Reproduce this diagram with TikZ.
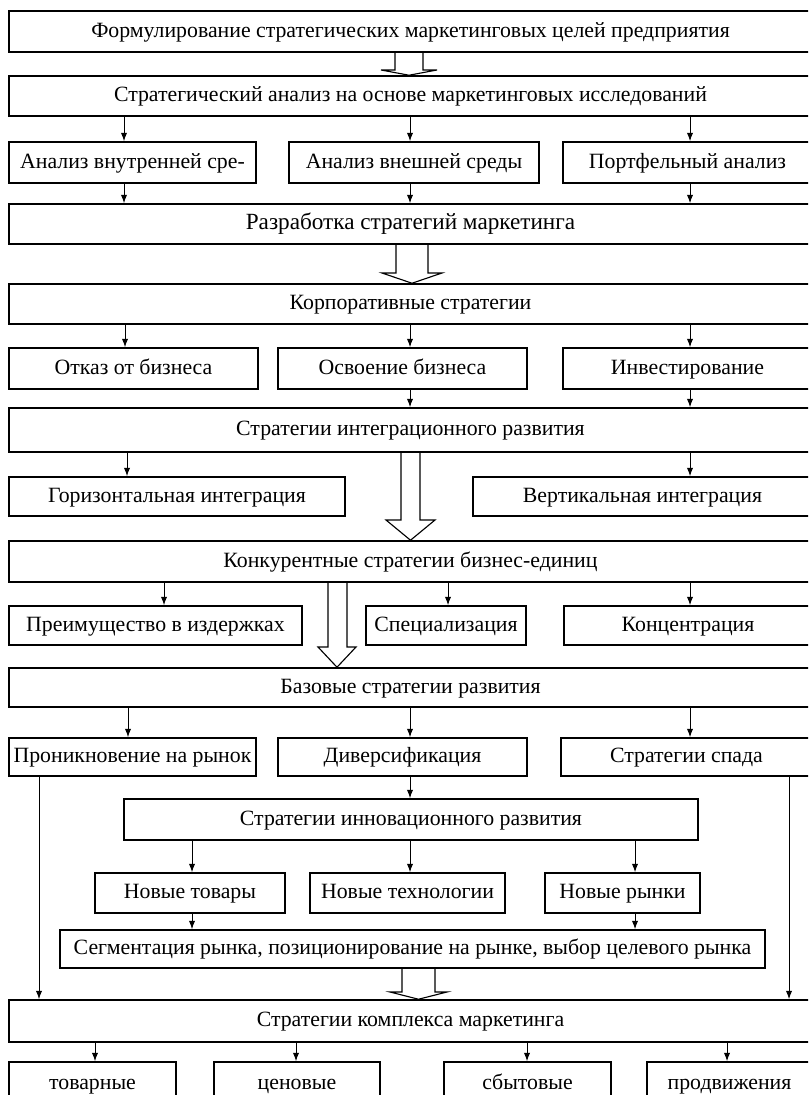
\documentclass[tikz,border=0pt]{standalone}
\usepackage{fontspec}
\setmainfont{Liberation Serif}
\usetikzlibrary{calc,arrows.meta}

\tikzset{
  blk/.style 2 args={draw, line width=1.1pt, minimum width=#1*0.025cm, minimum height=#2*0.025cm,
    inner sep=0pt, text height=11pt, text depth=3pt, font=\fontsize{15.5}{17}\selectfont},
  arr/.style={-{Latex[length=6pt,width=4.5pt]}, line width=0.7pt},
  hollow/.style={line width=0.8pt, line join=miter}
}

\begin{document}
\begin{tikzpicture}[x=0.025cm,y=-0.025cm]
\useasboundingbox (0,0) rectangle (808,1095);
\clip (0,0) rectangle (808,1095);
% top of the scheme
\node[blk={803}{41}] (n1) at (410.5,31.5) {Формулирование стратегических маркетинговых целей предприятия};
\node[blk={803}{40}] (n2) at (410.5,96) {Стратегический анализ на основе маркетинговых исследований};
\node[blk={247}{41}] (n3a) at (132.5,162.5) {Анализ внутренней сре-};
\node[blk={250}{41}] (n3b) at (414,162.5) {Анализ внешней среды};
\node[blk={249}{41}] (n3c) at (687.5,162.5) {Портфельный анализ};
\node[blk={803}{40},font=\fontsize{16.5}{18}\selectfont] (n4) at (410.5,224) {Разработка стратегий маркетинга};
% corporate level
\node[blk={803}{40}] (n5) at (410.5,304) {Корпоративные стратегии};
\node[blk={249}{41}] (n6a) at (133.5,368.5) {Отказ от бизнеса};
\node[blk={249}{41}] (n6b) at (402.5,368.5) {Освоение бизнеса};
\node[blk={249}{41}] (n6c) at (687.5,368.5) {Инвестирование};
\node[blk={803}{44}] (n7) at (410.5,430) {Стратегии интеграционного развития};
\node[blk={336}{39}] (n8a) at (177,496.5) {Горизонтальная интеграция};
\node[blk={339}{39}] (n8b) at (642.5,496.5) {Вертикальная интеграция};
% business units
\node[blk={803}{41}] (n9) at (410.5,561.5) {Конкурентные стратегии бизнес-единиц};
\node[blk={293}{39}] (n10a) at (155.5,625.5) {Преимущество в издержках};
\node[blk={160}{39}] (n10b) at (446,625.5) {Специализация};
\node[blk={248}{39}] (n10c) at (688,625.5) {Концентрация};
\node[blk={803}{39}] (n11) at (410.5,687.5) {Базовые стратегии развития};
\node[blk={247}{38}] (n12a) at (132.5,757) {Проникновение на рынок};
\node[blk={249}{38}] (n12b) at (402.5,757) {Диверсификация};
\node[blk={251}{38}] (n12c) at (686.5,757) {Стратегии спада};
\node[blk={574}{41}] (n13) at (411,819.5) {Стратегии инновационного развития};
\node[blk={190}{40}] (n14a) at (190,893) {Новые товары};
\node[blk={195}{40}] (n14b) at (407.5,893) {Новые технологии};
\node[blk={155}{40}] (n14c) at (622.5,893) {Новые рынки};
\node[blk={705}{38}] (n15) at (412.5,949) {Сегментация рынка, позиционирование на рынке, выбор целевого рынка};
% marketing mix
\node[blk={803}{42}] (n16) at (410.5,1021) {Стратегии комплекса маркетинга};
\node[blk={167}{44}] (n17a) at (92.5,1084) {товарные};
\node[blk={166}{44}] (n17b) at (297,1084) {ценовые};
\node[blk={167}{44}] (n17c) at (527.5,1084) {сбытовые};
\node[blk={165}{44}] (n17d) at (729.5,1084) {продвижения};

% connectors
\draw[hollow] (395,0 |- n1.south) -- (395,70) -- (381,70) -- (409,0 |- n2.north) -- (437,70) -- (423,70) -- (423,0 |- n1.south);
\draw[arr] (124,0 |- n2.south) -- (124,0 |- n3a.north);
\draw[arr] (410,0 |- n2.south) -- (410,0 |- n3b.north);
\draw[arr] (690,0 |- n2.south) -- (690,0 |- n3c.north);
\draw[arr] (124,0 |- n3a.south) -- (124,0 |- n4.north);
\draw[arr] (410,0 |- n3b.south) -- (410,0 |- n4.north);
\draw[arr] (690,0 |- n3c.south) -- (690,0 |- n4.north);
\draw[hollow] (396,0 |- n4.south) -- (396,273) -- (382,273) -- (412,0 |- n5.north) -- (442,273) -- (428,273) -- (428,0 |- n4.south);
\draw[arr] (125,0 |- n5.south) -- (125,0 |- n6a.north);
\draw[arr] (410,0 |- n5.south) -- (410,0 |- n6b.north);
\draw[arr] (690,0 |- n5.south) -- (690,0 |- n6c.north);
\draw[arr] (410,0 |- n6b.south) -- (410,0 |- n7.north);
\draw[arr] (690,0 |- n6c.south) -- (690,0 |- n7.north);
\draw[arr] (127,0 |- n7.south) -- (127,0 |- n8a.north);
\draw[arr] (690,0 |- n7.south) -- (690,0 |- n8b.north);
\draw[hollow] (401,0 |- n7.south) -- (401,520) -- (386,520) -- (410.5,0 |- n9.north) -- (435,520) -- (420,520) -- (420,0 |- n7.south);
\draw[arr] (164,0 |- n9.south) -- (164,0 |- n10a.north);
\draw[arr] (448,0 |- n9.south) -- (448,0 |- n10b.north);
\draw[arr] (690,0 |- n9.south) -- (690,0 |- n10c.north);
\draw[hollow] (328,0 |- n9.south) -- (328,647) -- (318,647) -- (337,0 |- n11.north) -- (356,647) -- (347,647) -- (347,0 |- n9.south);
\draw[arr] (128,0 |- n11.south) -- (128,0 |- n12a.north);
\draw[arr] (410,0 |- n11.south) -- (410,0 |- n12b.north);
\draw[arr] (690,0 |- n11.south) -- (690,0 |- n12c.north);
\draw[arr] (410,0 |- n12b.south) -- (410,0 |- n13.north);
\draw[arr] (192,0 |- n13.south) -- (192,0 |- n14a.north);
\draw[arr] (410,0 |- n13.south) -- (410,0 |- n14b.north);
\draw[arr] (635,0 |- n13.south) -- (635,0 |- n14c.north);
\draw[arr] (192,0 |- n14a.south) -- (192,0 |- n15.north);
\draw[arr] (635,0 |- n14c.south) -- (635,0 |- n15.north);
\draw[arr] (39,0 |- n12a.south) -- (39,0 |- n16.north);
\draw[arr] (789,0 |- n12c.south) -- (789,0 |- n16.north);
\draw[hollow] (402,0 |- n15.south) -- (402,992) -- (390,992) -- (418.5,0 |- n16.north) -- (447,992) -- (435,992) -- (435,0 |- n15.south);
\draw[arr] (95,0 |- n16.south) -- (95,0 |- n17a.north);
\draw[arr] (296,0 |- n16.south) -- (296,0 |- n17b.north);
\draw[arr] (527,0 |- n16.south) -- (527,0 |- n17c.north);
\draw[arr] (727,0 |- n16.south) -- (727,0 |- n17d.north);
\end{tikzpicture}
\end{document}
